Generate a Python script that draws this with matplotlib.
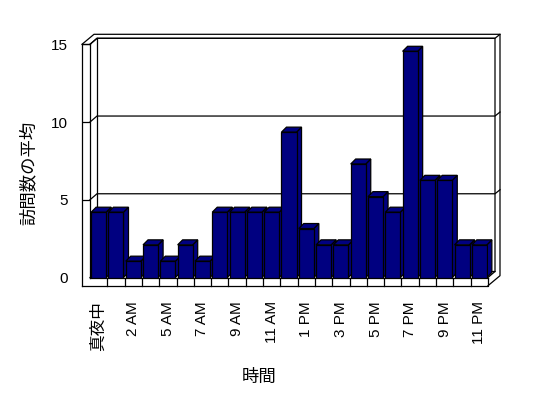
import matplotlib
matplotlib.use("Agg")
import matplotlib.pyplot as plt
from matplotlib.patches import Polygon

plt.rcParams['font.family'] = ['Liberation Sans', 'Noto Sans CJK JP', 'DejaVu Sans']

# ---- data ----
hours = ["真夜中", "1 AM", "2 AM", "3 AM", "5 AM", "6 AM", "7 AM", "8 AM", "9 AM",
         "10 AM", "11 AM", "正午", "1 PM", "2 PM", "3 PM", "4 PM", "5 PM", "6 PM",
         "7 PM", "8 PM", "9 PM", "10 PM", "11 PM"]
visits = [4.2, 4.2, 1.05, 2.1, 1.05, 2.1, 1.05, 4.2, 4.2, 4.2, 4.2, 9.35, 3.15,
          2.1, 2.1, 7.3, 5.2, 4.2, 14.55, 6.25, 6.25, 2.1, 2.1]
yticks = [0, 5, 10, 15]
xlabel = "時間"
ylabel = "訪問数の平均"

W, H = 548, 398
fig = plt.figure(figsize=(W / 100, H / 100), dpi=100)
ax_l, ax_r, ax_top, ax_bot = 90, 488, 44.3, 277.5
ax = fig.add_axes([ax_l / W, (H - ax_bot) / H, (ax_r - ax_l) / W, (ax_bot - ax_top) / H])
n = len(visits)
ax.set_xlim(-0.5, n - 0.5)
ax.set_ylim(0, 15)

ux = (ax_r - ax_l) / n
uy = (ax_bot - ax_top) / 15.0
def ox(p): return p / ux
def oy(p): return p / uy

L, R = -0.5, n - 0.5
lw = 0.9
kw = dict(color='black', lw=lw, clip_on=False, solid_capstyle='projecting')

def line(xs, ys, z=1):
    ax.plot(xs, ys, zorder=z, **kw)

# walls / floor frame
d1x, d1y = ox(7), oy(6)
d2x, d2y = ox(12), oy(10)
xw = L - ox(8)
fb = -oy(8.2)
line([xw, xw], [15, fb], 5)
line([xw, L], [15, 15], 5)
line([xw, xw + d2x, R + d2x, R + d2x, R], [15, 15 + d2y, 15 + d2y, fb + d2y, fb])
line([L, L + d1x, R + d1x, R + d1x, R], [15, 15 + d1y, 15 + d1y, d1y, 0])
line([L + d1x, L + d1x], [15 + d1y, d1y])
line([L, L + d1x, R + d1x], [0, d1y, d1y])
for v in yticks[1:]:
    line([L, L + d1x, R + d1x, R + d2x], [v, v + d1y, v + d1y, v + d2y])
# floor front strip
line([xw, R, R], [fb, fb, 0], 5)
for k in range(1, n):
    line([L + k, L + k], [0, fb], 5)

# bars (3-D look)
bw = 0.87
bd_x, bd_y = ox(5), oy(5)
navy = '#000080'
for i, v in enumerate(visits):
    xl, xr = i - bw / 2, i + bw / 2
    z = 10 + i
    side = Polygon([(xr, 0), (xr, v), (xr + bd_x, v + bd_y), (xr + bd_x, bd_y)],
                   closed=True, facecolor=navy, edgecolor='black', lw=lw, zorder=z, clip_on=False)
    top = Polygon([(xl, v), (xr, v), (xr + bd_x, v + bd_y), (xl + bd_x, v + bd_y)],
                  closed=True, facecolor=navy, edgecolor='black', lw=lw, zorder=z, clip_on=False)
    ax.add_patch(side)
    ax.add_patch(top)
    ax.bar(i, v, width=bw, color=navy, edgecolor='black', linewidth=lw, zorder=z + 0.5)

# axes styling
for s in ['top', 'right']:
    ax.spines[s].set_visible(False)
ax.spines['left'].set_linewidth(lw)
ax.spines['bottom'].set_linewidth(lw)
ax.spines['left'].set_zorder(5)
ax.spines['bottom'].set_zorder(5)
ax.set_facecolor('none')

ax.set_yticks(yticks)
ax.set_yticklabels([str(t) for t in yticks])
ax.tick_params(axis='y', direction='out', length=8 * 0.72, width=lw, pad=10, labelsize=11)
ax.yaxis.get_major_ticks()[0].tick1line.set_visible(False)

pos = list(range(0, n, 2))
ax.set_xticks(pos)
ax.set_xticklabels([hours[i] for i in pos], rotation=90, va='top', ha='center')
ax.tick_params(axis='x', length=0, pad=17, labelsize=11)
ax.get_xticklabels()[0].set_fontsize(12)

fig.text(259 / W, 1 - 376.7 / H, xlabel, ha='center', va='center', fontsize=12.5,
         family=['Noto Sans CJK JP'])
fig.text(28.3 / W, 1 - 173 / H, ylabel, ha='center', va='center', rotation=90,
         fontsize=12.5, family=['Noto Sans CJK JP'])

fig.savefig("out.png", dpi=100)
